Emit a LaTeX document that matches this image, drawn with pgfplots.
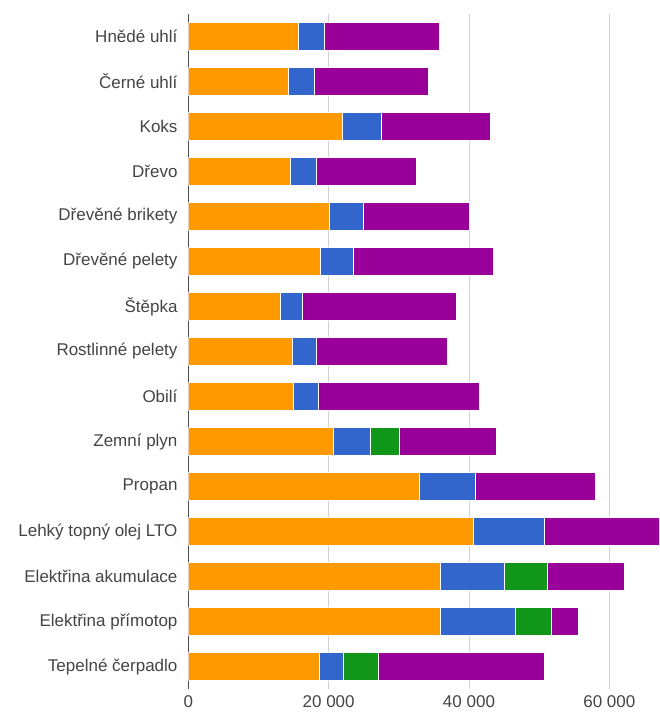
\documentclass[border=0pt]{standalone}
\usepackage{pgfplots}
\usepackage{pgfplotstable}
\usepackage{fontspec}
\setmainfont{Liberation Sans}
\pgfplotsset{compat=1.18}
\definecolor{gorange}{HTML}{FF9900}
\definecolor{gblue}{HTML}{3366CC}
\definecolor{ggreen}{HTML}{109618}
\definecolor{gpurple}{HTML}{990099}
\definecolor{lab}{HTML}{444444}
\pgfplotstableread{
idx o b g p
0 15770 3710 0 16290
1 14350 3700 0 16150
2 22040 5460 0 15600
3 14630 3660 0 14160
4 20100 4890 0 15150
5 18810 4710 0 19950
6 13160 3180 0 21900
7 14870 3420 0 18710
8 15060 3510 0 22900
9 20670 5360 4040 13870
10 32920 7980 0 17150
11 40710 10120 0 17000
12 35960 9170 6080 10930
13 35960 10600 5130 3890
14 18760 3330 5080 23570
}\data
\begin{document}
\begin{tikzpicture}
\path[use as bounding box] (0,0) rectangle (659pt,717pt);
\begin{axis}[
  at={(188.3pt,28pt)}, anchor=south west,
  scale only axis, width=470.7pt, height=675pt,
  xbar stacked, bar width=27.4pt,
  xmin=0, xmax=67080,
  ymin=-0.5, ymax=14.5, y dir=reverse,
  ytick={0,...,14},
  yticklabels={Hnědé uhlí,Černé uhlí,Koks,Dřevo,Dřevěné brikety,Dřevěné pelety,Štěpka,Rostlinné pelety,Obilí,Zemní plyn,Propan,Lehký topný olej LTO,Elektřina akumulace,Elektřina přímotop,Tepelné čerpadlo},
  xtick={0,20000,40000,60000},
  xticklabels={0,20 000,40 000,60 000},
  major tick length=0pt,
  axis line style={draw=none},
  xmajorgrids, major grid style={draw=black!18, line width=0.8pt},
  extra x ticks={0}, extra x tick labels={},
  extra tick style={grid=major, major grid style={draw=black!70, line width=1pt}},
  tick label style={font=\fontsize{17}{20}\selectfont, text=lab},
  yticklabel style={xshift=-7.3pt},
  xticklabel style={yshift=-3pt},
  every axis plot/.append style={draw=white, line width=1pt},
  clip=true,
]
\addplot[fill=gorange] table[x=o, y=idx] {\data};
\addplot[fill=gblue] table[x=b, y=idx] {\data};
\addplot[fill=ggreen] table[x=g, y=idx] {\data};
\addplot[fill=gpurple] table[x=p, y=idx] {\data};
\end{axis}
\end{tikzpicture}
\end{document}
